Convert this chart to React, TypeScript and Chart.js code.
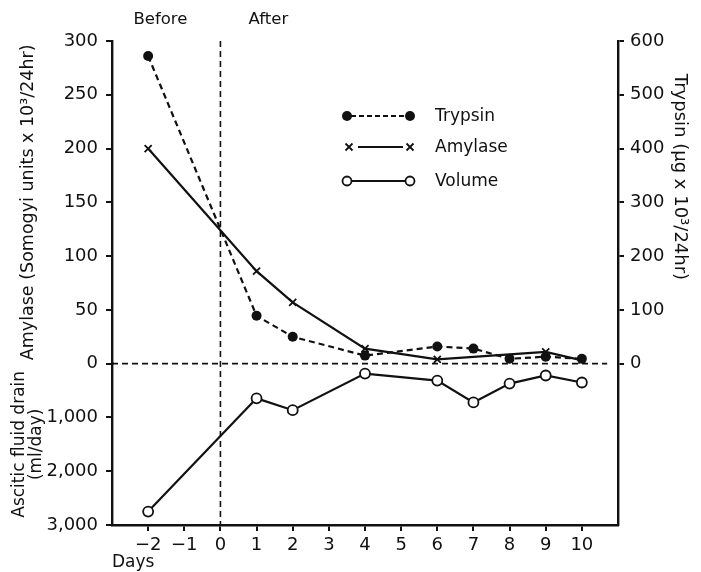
import { useEffect, useRef } from 'react';
import { Chart, registerables } from 'chart.js';
Chart.register(...registerables);

const dayTicks = [-2, -1, 0, 1, 2, 3, 4, 5, 6, 7, 8, 9, 10];
const amylaseDays = [-2, 1, 2, 4, 6, 9, 10];
const amylaseValues = [200, 86, 57, 14, 4, 11, 3];
const trypsinDays = [-2, 1, 2, 4, 6, 7, 8, 9, 10];
const trypsinValues = [572, 89, 50, 15, 32, 28, 9, 13, 9];
const volumeDays = [-2, 1, 2, 4, 6, 7, 8, 9, 10];
const volumeValues = [2750, 645, 865, 185, 315, 720, 370, 220, 350];
const amylaseTicks = [0, 50, 100, 150, 200, 250, 300];
const volumeTicks = [1000, 2000, 3000];
const trypsinTicks = [0, 100, 200, 300, 400, 500, 600];
const legendLabels = ['Trypsin', 'Amylase', 'Volume'];
const phaseLabels = ['Before', 'After'];

const INK = '#111';
const FAMILY = '"DejaVu Sans", sans-serif';

const pairs = (xs: number[], ys: number[]) => xs.map((x, i) => ({ x, y: ys[i] }));

const drawCross = (ctx: CanvasRenderingContext2D, x: number, y: number, r: number) => {
  ctx.beginPath();
  ctx.moveTo(x - r, y - r); ctx.lineTo(x + r, y + r);
  ctx.moveTo(x + r, y - r); ctx.lineTo(x - r, y + r);
  ctx.stroke();
};

const overlay = {
  id: 'overlay',
  beforeDatasetsDraw(chart: any) {
    const { ctx, chartArea, scales } = chart;
    const x0 = scales.x.getPixelForValue(0);
    const y0 = scales.y.getPixelForValue(0);
    ctx.save();
    ctx.strokeStyle = INK;
    ctx.lineWidth = 1.6;
    ctx.setLineDash([6, 4]);
    ctx.beginPath();
    ctx.moveTo(x0, chartArea.top);
    ctx.lineTo(x0, chartArea.bottom);
    ctx.stroke();
    ctx.beginPath();
    ctx.moveTo(chartArea.left, y0);
    ctx.lineTo(scales.x.getPixelForValue(10.7), y0);
    ctx.stroke();
    ctx.restore();
  },
  afterDraw(chart: any) {
    const { ctx, scales } = chart;
    const x0 = scales.x.getPixelForValue(0);
    ctx.save();
    ctx.fillStyle = INK;
    ctx.strokeStyle = INK;
    ctx.font = `16.5px ${FAMILY}`;
    ctx.textBaseline = 'middle';
    ctx.textAlign = 'center';
    ctx.fillText(phaseLabels[0], x0 - 60, 20);
    ctx.fillText(phaseLabels[1], x0 + 48, 20);

    // legend
    const rows = [116, 147, 181];
    const xl = 347, xr = 410;
    ctx.textAlign = 'left';
    ctx.font = `17px ${FAMILY}`;
    legendLabels.forEach((lab, i) => {
      const y = rows[i];
      ctx.lineWidth = 2;
      if (i === 0) {
        ctx.setLineDash([5, 3]);
        ctx.beginPath(); ctx.moveTo(xl + 4, y); ctx.lineTo(xr - 4, y); ctx.stroke();
        ctx.setLineDash([]);
        [xl, xr].forEach((cx) => { ctx.beginPath(); ctx.arc(cx, y, 5, 0, Math.PI * 2); ctx.fill(); });
      } else if (i === 1) {
        ctx.beginPath(); ctx.moveTo(xl + 11, y); ctx.lineTo(xr - 7, y); ctx.stroke();
        ctx.lineWidth = 1.8;
        drawCross(ctx, xl + 2, y, 3.5);
        drawCross(ctx, xr, y, 3.5);
      } else {
        ctx.beginPath(); ctx.moveTo(xl + 4, y); ctx.lineTo(xr - 4, y); ctx.stroke();
        ctx.lineWidth = 1.8;
        [xl, xr].forEach((cx) => {
          ctx.beginPath(); ctx.arc(cx, y, 4.5, 0, Math.PI * 2);
          ctx.fillStyle = '#fff'; ctx.fill(); ctx.fillStyle = INK; ctx.stroke();
        });
      }
      ctx.fillText(lab, 435, y + 1);
    });

    // right axis title
    ctx.font = `18px ${FAMILY}`;
    ctx.translate(680, 177);
    ctx.rotate(Math.PI / 2);
    ctx.textAlign = 'center';
    ctx.fillText('Trypsin (µg x 10³/24hr)', 0, 0);
    ctx.restore();
  },
};

const gridOpts = { drawOnChartArea: false, drawTicks: true, tickLength: 6, color: INK, lineWidth: 2 };
const borderOpts = { display: true, color: INK, width: 2.4 };
const tickFont = { family: FAMILY, size: 18 };

export default function App() {
  const ref = useRef<HTMLCanvasElement>(null);
  useEffect(() => {
    document.body.style.margin = '0';
    const chart = new Chart(ref.current!, {
      type: 'line',
      data: {
        datasets: [
          {
            label: 'Trypsin',
            data: pairs(trypsinDays, trypsinValues),
            yAxisID: 'yT',
            borderColor: INK,
            borderWidth: 2.2,
            borderDash: [6, 4],
            pointStyle: 'circle',
            pointRadius: 5,
            pointBackgroundColor: INK,
            pointBorderColor: INK,
            pointBorderWidth: 0,
          },
          {
            label: 'Amylase',
            data: pairs(amylaseDays, amylaseValues),
            yAxisID: 'y',
            borderColor: INK,
            borderWidth: 2.2,
            pointStyle: 'crossRot',
            pointRadius: 5,
            pointBorderColor: INK,
            pointBorderWidth: 1.8,
          },
          {
            label: 'Volume',
            data: pairs(volumeDays, volumeValues),
            yAxisID: 'yV',
            borderColor: INK,
            borderWidth: 2.2,
            pointStyle: 'circle',
            pointRadius: 5,
            pointBackgroundColor: '#fff',
            pointBorderColor: INK,
            pointBorderWidth: 1.8,
          },
        ],
      },
      options: {
        responsive: true,
        maintainAspectRatio: false,
        animation: false,
        layout: { padding: { top: 41, left: 0, right: 0, bottom: 0 } },
        plugins: { legend: { display: false }, tooltip: { enabled: false } },
        scales: {
          x: {
            type: 'linear',
            position: 'bottom',
            min: -3,
            max: 11,
            afterBuildTicks: (s: any) => { s.ticks = dayTicks.map((v) => ({ value: v })); },
            afterFit: (s: any) => { s.height = 47; },
            grid: gridOpts,
            border: borderOpts,
            ticks: {
              color: INK, font: tickFont, padding: 4, maxRotation: 0,
              callback: (v: any) => (v < 0 ? '−' + Math.abs(v) : String(v)),
            },
            title: {
              display: true, text: 'Days', align: 'start', color: INK,
              font: { family: FAMILY, size: 17 }, padding: { top: 0, bottom: -1 },
            },
          },
          yV: {
            type: 'linear',
            position: 'left',
            stack: 'left',
            stackWeight: 1,
            min: 0,
            max: 3000,
            reverse: true,
            afterBuildTicks: (s: any) => { s.ticks = volumeTicks.map((v) => ({ value: v })); },
            afterFit: (s: any) => { s.width = 112; },
            grid: gridOpts,
            border: borderOpts,
            ticks: { color: INK, font: tickFont, padding: 8, callback: (v: any) => Number(v).toLocaleString('en-US') },
            title: {
              display: true, text: ['Ascitic fluid drain', '(ml/day)'], color: INK,
              font: { family: FAMILY, size: 17, lineHeight: 0.95 }, padding: { top: 12, bottom: 0 },
            },
          },
          y: {
            type: 'linear',
            position: 'left',
            stack: 'left',
            stackWeight: 2,
            min: 0,
            max: 300,
            afterBuildTicks: (s: any) => { s.ticks = amylaseTicks.map((v) => ({ value: v })); },
            afterFit: (s: any) => { s.width = 112; },
            grid: gridOpts,
            border: borderOpts,
            ticks: { color: INK, font: tickFont, padding: 8 },
            title: {
              display: true, text: 'Amylase (Somogyi units x 10³/24hr)', color: INK,
              font: { family: FAMILY, size: 17.5 }, padding: { top: 18, bottom: 0 },
            },
          },
          yT: {
            type: 'linear',
            position: 'right',
            min: -300,
            max: 600,
            afterBuildTicks: (s: any) => { s.ticks = trypsinTicks.map((v) => ({ value: v })); },
            afterFit: (s: any) => { s.width = 83; },
            grid: gridOpts,
            border: borderOpts,
            ticks: { color: INK, font: tickFont, padding: 6 },
          },
        },
      } as any,
      plugins: [overlay],
    });
    return () => chart.destroy();
  }, []);
  return (
    <div style={{ width: 701, height: 572, position: 'relative', overflow: 'hidden', background: '#fff' }}>
      <canvas ref={ref} />
    </div>
  );
}
